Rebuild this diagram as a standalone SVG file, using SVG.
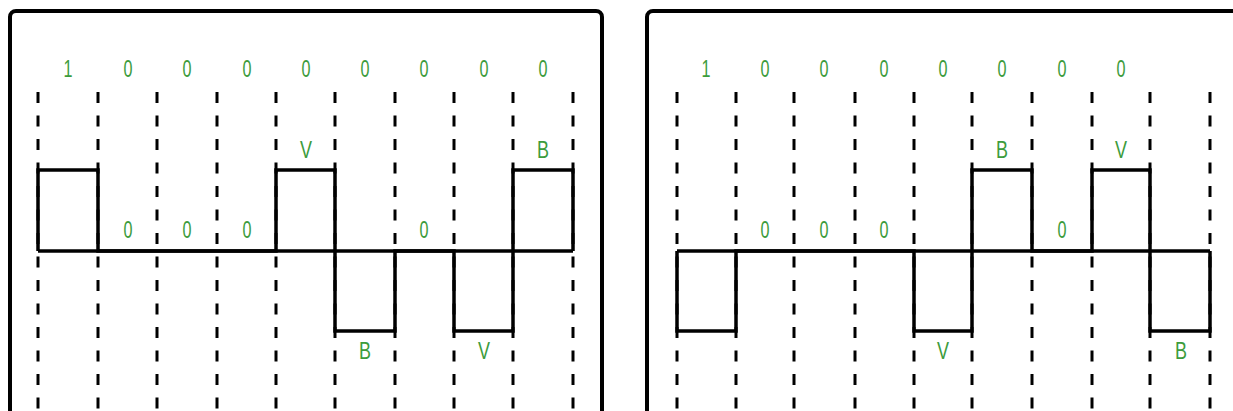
<svg xmlns="http://www.w3.org/2000/svg" width="1233" height="411" viewBox="0 0 1233 411">
<style>
.frame{fill:none;stroke:#000;stroke-width:4}
.grid line{stroke:#000;stroke-width:3;stroke-dasharray:11 12.5}
.wave{fill:none;stroke:#000;stroke-width:3.5;stroke-linejoin:miter}
.lbl{font-family:"Liberation Sans",Arial,sans-serif;font-size:24px;fill:#3c9c3c;text-anchor:middle}
</style>
<rect width="1233" height="411" fill="#fff"/>
<g id="panel-left">
<rect class="frame" x="10" y="11" width="592" height="440" rx="6"/>
<g class="grid">
<line x1="38" y1="92" x2="38" y2="411"/><line x1="98" y1="92" x2="98" y2="411"/><line x1="157" y1="92" x2="157" y2="411"/><line x1="217" y1="92" x2="217" y2="411"/><line x1="276" y1="92" x2="276" y2="411"/><line x1="335" y1="92" x2="335" y2="411"/><line x1="395" y1="92" x2="395" y2="411"/><line x1="454" y1="92" x2="454" y2="411"/><line x1="513" y1="92" x2="513" y2="411"/><line x1="573" y1="92" x2="573" y2="411"/>
</g>
<g id="wave-left">
<path class="wave" d="M38,251 H573"/>
<path class="wave" d="M38,251 V170 H98 V251 H276 V170 H335 V331 H395 V251 H454 V331 H513 V170 H573 V251"/>
</g>
<g id="labels-left" class="lbl">
<text x="68" y="77" textLength="9" lengthAdjust="spacingAndGlyphs">1</text>
<text x="128" y="77" textLength="9" lengthAdjust="spacingAndGlyphs">0</text>
<text x="187" y="77" textLength="9" lengthAdjust="spacingAndGlyphs">0</text>
<text x="247" y="77" textLength="9" lengthAdjust="spacingAndGlyphs">0</text>
<text x="306" y="77" textLength="9" lengthAdjust="spacingAndGlyphs">0</text>
<text x="365" y="77" textLength="9" lengthAdjust="spacingAndGlyphs">0</text>
<text x="424" y="77" textLength="9" lengthAdjust="spacingAndGlyphs">0</text>
<text x="484" y="77" textLength="9" lengthAdjust="spacingAndGlyphs">0</text>
<text x="543" y="77" textLength="9" lengthAdjust="spacingAndGlyphs">0</text>
<text x="306" y="158" textLength="12" lengthAdjust="spacingAndGlyphs">V</text>
<text x="543" y="158" textLength="12" lengthAdjust="spacingAndGlyphs">B</text>
<text x="128" y="238" textLength="9" lengthAdjust="spacingAndGlyphs">0</text>
<text x="187" y="238" textLength="9" lengthAdjust="spacingAndGlyphs">0</text>
<text x="247" y="238" textLength="9" lengthAdjust="spacingAndGlyphs">0</text>
<text x="424" y="238" textLength="9" lengthAdjust="spacingAndGlyphs">0</text>
<text x="365" y="359" textLength="12" lengthAdjust="spacingAndGlyphs">B</text>
<text x="484" y="359" textLength="12" lengthAdjust="spacingAndGlyphs">V</text>
</g>
</g>
<g id="panel-right">
<rect class="frame" x="647" y="11" width="620" height="440" rx="6"/>
<g class="grid">
<line x1="677" y1="92" x2="677" y2="411"/><line x1="736" y1="92" x2="736" y2="411"/><line x1="794" y1="92" x2="794" y2="411"/><line x1="855" y1="92" x2="855" y2="411"/><line x1="914" y1="92" x2="914" y2="411"/><line x1="972" y1="92" x2="972" y2="411"/><line x1="1032" y1="92" x2="1032" y2="411"/><line x1="1092" y1="92" x2="1092" y2="411"/><line x1="1150" y1="92" x2="1150" y2="411"/><line x1="1210" y1="92" x2="1210" y2="411"/>
</g>
<g id="wave-right">
<path class="wave" d="M677,251 H1210"/>
<path class="wave" d="M677,251 V331 H736 V251 H914 V331 H972 V170 H1032 V251 H1092 V170 H1150 V331 H1210 V251"/>
</g>
<g id="labels-right" class="lbl">
<text x="706" y="77" textLength="9" lengthAdjust="spacingAndGlyphs">1</text>
<text x="765" y="77" textLength="9" lengthAdjust="spacingAndGlyphs">0</text>
<text x="824" y="77" textLength="9" lengthAdjust="spacingAndGlyphs">0</text>
<text x="884" y="77" textLength="9" lengthAdjust="spacingAndGlyphs">0</text>
<text x="943" y="77" textLength="9" lengthAdjust="spacingAndGlyphs">0</text>
<text x="1002" y="77" textLength="9" lengthAdjust="spacingAndGlyphs">0</text>
<text x="1062" y="77" textLength="9" lengthAdjust="spacingAndGlyphs">0</text>
<text x="1121" y="77" textLength="9" lengthAdjust="spacingAndGlyphs">0</text>
<text x="1002" y="158" textLength="12" lengthAdjust="spacingAndGlyphs">B</text>
<text x="1121" y="158" textLength="12" lengthAdjust="spacingAndGlyphs">V</text>
<text x="765" y="238" textLength="9" lengthAdjust="spacingAndGlyphs">0</text>
<text x="824" y="238" textLength="9" lengthAdjust="spacingAndGlyphs">0</text>
<text x="884" y="238" textLength="9" lengthAdjust="spacingAndGlyphs">0</text>
<text x="1062" y="238" textLength="9" lengthAdjust="spacingAndGlyphs">0</text>
<text x="943" y="359" textLength="12" lengthAdjust="spacingAndGlyphs">V</text>
<text x="1181" y="359" textLength="12" lengthAdjust="spacingAndGlyphs">B</text>
</g>
</g>
</svg>
